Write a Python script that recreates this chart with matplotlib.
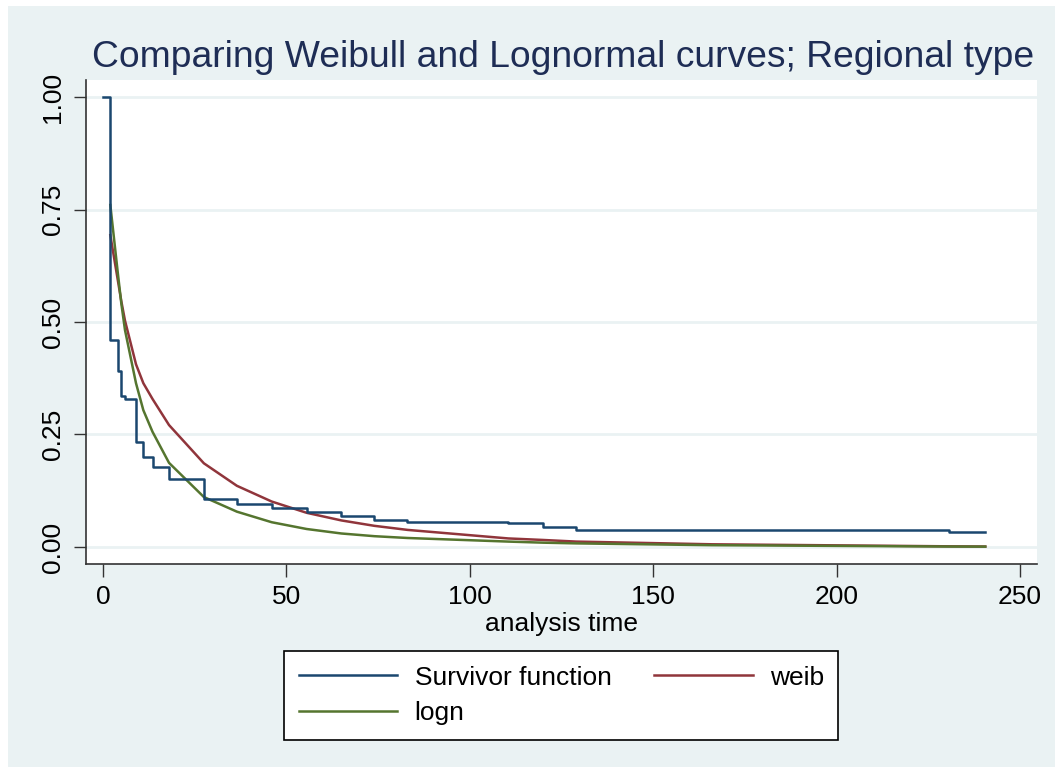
import matplotlib
matplotlib.use("Agg")
import matplotlib.pyplot as plt
from matplotlib.patches import Rectangle

plt.rcParams['font.family'] = ['Liberation Sans', 'DejaVu Sans']

# Kaplan-Meier step function
km_time = [0, 2, 4, 5, 6, 9, 11, 13.5, 18, 27.5, 36.5, 46, 55.5, 65, 74, 83,
           110.5, 120, 129, 166, 230.6, 240.5]
km_surv = [1.0, 0.46, 0.39, 0.336, 0.328, 0.233, 0.199, 0.178, 0.152, 0.107,
           0.096, 0.087, 0.077, 0.068, 0.061, 0.055, 0.053, 0.044, 0.037,
           0.037, 0.033, 0.033]

# fitted curves, evaluated at the observed times
fit_time = [2, 4, 5, 6, 9, 11, 13.5, 18, 27.5, 36.5, 46, 55.5, 65, 74, 83,
            110.5, 120, 129, 166, 230.6, 240.5]
weib = [0.693, 0.595, 0.546, 0.503, 0.406, 0.364, 0.329, 0.271, 0.186, 0.136,
        0.101, 0.076, 0.059, 0.047, 0.038, 0.019, 0.0156, 0.012, 0.006,
        0.0015, 0.001]
logn = [0.76, 0.612, 0.541, 0.482, 0.364, 0.304, 0.256, 0.187, 0.111, 0.0785,
        0.055, 0.040, 0.030, 0.024, 0.020, 0.012, 0.0096, 0.008, 0.004,
        0.001, 0.0008]

x_ticks = [0, 50, 100, 150, 200, 250]
y_ticks = [0, 0.25, 0.5, 0.75, 1.0]
y_labels = ['0.00', '0.25', '0.50', '0.75', '1.00']

NAVY = '#1a476f'
MAROON = '#90353b'
GREEN = '#55752f'
BG = '#eaf2f3'

W, H = 1055, 767
fig = plt.figure(figsize=(W / 100, H / 100), dpi=100, facecolor='white')
fig.patches.append(Rectangle((8 / W, 0), 1 - 8 / W, 1 - 6 / H,
                             transform=fig.transFigure, facecolor=BG,
                             edgecolor='none', zorder=-10))

ax = fig.add_axes([86 / W, 1 - 564 / H, (1037 - 86) / W, (564 - 80) / H])
ax.set_facecolor('white')

for y in y_ticks:
    ax.axhline(y, color=BG, lw=2, zorder=0)

ax.step(km_time, km_surv, where='post', color=NAVY, lw=1.8,
        label='Survivor function', zorder=3)
ax.plot(fit_time, weib, color=MAROON, lw=1.8, label='weib', zorder=2)
ax.plot(fit_time, logn, color=GREEN, lw=1.8, label='logn', zorder=2)

ax.set_xlim(-4.63, 254.6)
ax.set_ylim(-0.0378, 1.0378)
ax.set_xticks(x_ticks)
ax.set_yticks(y_ticks)
ax.set_yticklabels(y_labels, rotation=90, va='center')
ax.tick_params(axis='both', labelsize=19, length=9, width=1, color='#333333',
               pad=6)
for s in ['top', 'right']:
    ax.spines[s].set_visible(False)
for s in ['left', 'bottom']:
    ax.spines[s].set_color('#333333')
    ax.spines[s].set_linewidth(1.2)
ax.set_xlabel('analysis time', fontsize=19, labelpad=2)

fig.text(563 / W, 1 - 67 / H,
         'Comparing Weibull and Lognormal curves; Regional type',
         fontsize=26.8, color='#1e2d55', ha='center', va='baseline')

h, l = ax.get_legend_handles_labels()
order = [0, 2, 1]
leg = fig.legend([h[i] for i in order], [l[i] for i in order], ncol=2,
                 loc='upper left', bbox_to_anchor=(284 / W, 1 - 651 / H),
                 fontsize=19, frameon=True, fancybox=False, framealpha=1,
                 edgecolor='black', handlelength=3.75, handletextpad=0.65,
                 columnspacing=1.6, labelspacing=0.45, borderpad=0.55,
                 borderaxespad=0)
leg.get_frame().set_linewidth(1.2)

fig.savefig('out.png', dpi=100, facecolor='white')
